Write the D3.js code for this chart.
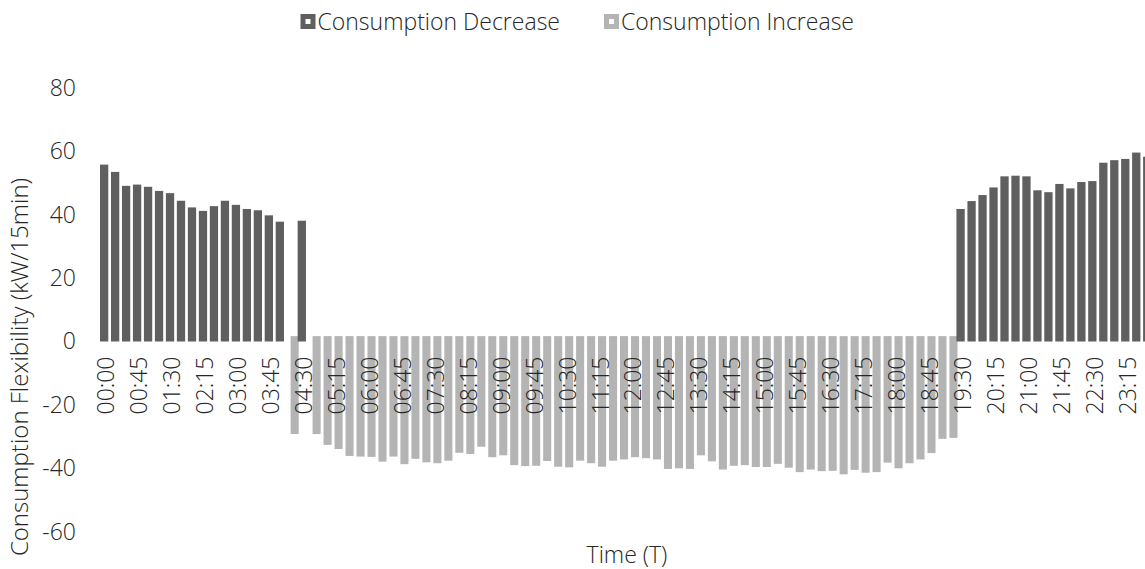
<!DOCTYPE html>
<html>
<head>
<meta charset="utf-8">
<script src="https://cdn.jsdelivr.net/npm/d3@7"></script>
<style>
  html, body { margin: 0; padding: 0; background: #ffffff; }
  svg { display: block; }
  text { font-family: "Open Sans", "Noto Sans", sans-serif; font-weight: 300; fill: #262626; }
</style>
</head>
<body>
<svg id="chart" width="1145" height="569"></svg>
<script>
// 15-minute time slots over one day
const timeSlots = [
  "00:00","00:15","00:30","00:45","01:00","01:15","01:30","01:45",
  "02:00","02:15","02:30","02:45","03:00","03:15","03:30","03:45",
  "04:00","04:15","04:30","04:45","05:00","05:15","05:30","05:45",
  "06:00","06:15","06:30","06:45","07:00","07:15","07:30","07:45",
  "08:00","08:15","08:30","08:45","09:00","09:15","09:30","09:45",
  "10:00","10:15","10:30","10:45","11:00","11:15","11:30","11:45",
  "12:00","12:15","12:30","12:45","13:00","13:15","13:30","13:45",
  "14:00","14:15","14:30","14:45","15:00","15:15","15:30","15:45",
  "16:00","16:15","16:30","16:45","17:00","17:15","17:30","17:45",
  "18:00","18:15","18:30","18:45","19:00","19:15","19:30","19:45",
  "20:00","20:15","20:30","20:45","21:00","21:15","21:30","21:45",
  "22:00","22:15","22:30","22:45","23:00","23:15","23:30","23:45"
];

// Labelled slots on the time axis
const tickLabels = [
  "00:00","00:45","01:30","02:15","03:00","03:45","04:30","05:15",
  "06:00","06:45","07:30","08:15","09:00","09:45","10:30","11:15",
  "12:00","12:45","13:30","14:15","15:00","15:45","16:30","17:15",
  "18:00","18:45","19:30","20:15","21:00","21:45","22:30","23:15"
];

// Consumption decrease (kW per 15 min), null where no flexibility is offered
const decreaseValues = [
  55.8, 53.5, 49.1, 49.5, 48.8, 47.5, 46.8, 44.4,
  42.3, 41.2, 42.7, 44.4, 43.1, 41.8, 41.4, 39.8,
  37.8, null, 38.1, null, null, null, null, null,
  null, null, null, null, null, null, null, null,
  null, null, null, null, null, null, null, null,
  null, null, null, null, null, null, null, null,
  null, null, null, null, null, null, null, null,
  null, null, null, null, null, null, null, null,
  null, null, null, null, null, null, null, null,
  null, null, null, null, null, null, 41.8, 44.3,
  46.2, 48.6, 52.1, 52.3, 52.1, 47.7, 47.1, 49.7,
  48.3, 50.3, 50.6, 56.4, 57.2, 57.6, 59.6, 58.3
];

// Consumption increase (kW per 15 min), null where no flexibility is offered
const increaseValues = [
  null, null, null, null, null, null, null, null,
  null, null, null, null, null, null, null, null,
  null, -29.2, null, -29.2, -32.6, -33.9, -36.1, -36.3,
  -36.4, -37.9, -36.3, -38.7, -37.0, -38.1, -38.4, -37.6,
  -35.1, -35.5, -33.2, -36.5, -35.9, -39.0, -39.3, -39.2,
  -37.7, -39.5, -39.7, -37.6, -38.4, -39.5, -37.6, -37.2,
  -36.5, -36.8, -37.2, -40.2, -40.0, -40.2, -35.9, -37.8,
  -40.4, -39.2, -39.0, -39.6, -39.6, -38.6, -39.8, -41.2,
  -40.4, -40.9, -40.8, -41.9, -40.5, -41.4, -41.2, -38.2,
  -40.0, -38.4, -37.2, -35.2, -30.7, -30.4, null, null,
  null, null, null, null, null, null, null, null,
  null, null, null, null, null, null, null, null
];

// Increase columns start slightly above the zero line
const increaseBase = 1.7;

const yTicks = [-60, -40, -20, 0, 20, 40, 60, 80];
const seriesNames = ["Consumption Decrease", "Consumption Increase"];
const seriesColors = ["#5f5f5f", "#b4b4b4"];

const fontSize = "23px";

const svg = d3.select("#chart");
svg.append("rect").attr("width", 1145).attr("height", 569).attr("fill", "#ffffff");

const step = 10.98;
const x = d3.scaleBand()
  .domain(timeSlots)
  .range([100, 100 + step * timeSlots.length])
  .paddingInner(0).paddingOuter(0);

const y = d3.scaleLinear()
  .domain([-60, 80])
  .range([531.7, 87.9]);

const decW = x.step() * 0.755;
const incW = x.step() * 0.735;
const incOffset = x.step() * 0.36;

// Increase columns (drawn first, decrease columns sit on top)
svg.append("g")
  .selectAll("rect")
  .data(timeSlots.map((t, i) => ({ t, v: increaseValues[i] })).filter(d => d.v !== null))
  .join("rect")
  .attr("x", d => x(d.t) + incOffset)
  .attr("width", incW)
  .attr("y", y(increaseBase))
  .attr("height", d => y(d.v) - y(increaseBase))
  .attr("fill", seriesColors[1]);

// Decrease columns
svg.append("g")
  .selectAll("rect")
  .data(timeSlots.map((t, i) => ({ t, v: decreaseValues[i] })).filter(d => d.v !== null))
  .join("rect")
  .attr("x", d => x(d.t))
  .attr("width", decW)
  .attr("y", d => y(d.v))
  .attr("height", d => y(0) - y(d.v))
  .attr("fill", seriesColors[0]);

// Time axis labels, rotated, just below the zero line
const xAxis = d3.axisBottom(x).tickValues(tickLabels).tickSize(0).tickPadding(0);
const gx = svg.append("g")
  .attr("transform", `translate(${x.step() * 0.08},${y(0) + 15})`)
  .call(xAxis);
gx.select(".domain").remove();
gx.selectAll("text")
  .attr("font-family", null)
  .attr("fill", null)
  .style("font-size", fontSize)
  .attr("text-anchor", "end")
  .attr("transform", "rotate(-90)")
  .attr("x", 0)
  .attr("y", 0)
  .attr("dy", "0.35em");

// Value axis labels
const yAxis = d3.axisLeft(y).tickValues(yTicks).tickSize(0).tickPadding(0);
const gy = svg.append("g")
  .attr("transform", "translate(76,0)")
  .call(yAxis);
gy.select(".domain").remove();
gy.selectAll("text")
  .attr("font-family", null)
  .attr("fill", null)
  .style("font-size", fontSize)
  .text(d => d < 0 ? "-" + Math.abs(d) : d);

// Axis titles
svg.append("text")
  .attr("transform", "translate(28,367) rotate(-90)")
  .attr("text-anchor", "middle")
  .style("font-size", "24px")
  .text("Consumption Flexibility (kW/15min)");

svg.append("text")
  .attr("x", 627)
  .attr("y", 563)
  .attr("text-anchor", "middle")
  .style("font-size", fontSize)
  .text("Time (T)");

// Legend
const legend = svg.append("g").attr("class", "legend");
const mk = 15;
const inner = 5;
const legendBase = 30;
const markTop = 14;

const firstText = legend.append("text")
  .attr("x", 560).attr("y", legendBase)
  .attr("text-anchor", "end")
  .style("font-size", fontSize)
  .text(seriesNames[0]);
const firstStart = 560 - firstText.node().getComputedTextLength();
const m1 = firstStart - mk - 2;
legend.append("rect")
  .attr("x", m1).attr("y", markTop).attr("width", mk).attr("height", mk)
  .attr("fill", seriesColors[0]);
legend.append("rect")
  .attr("x", m1 + (mk - inner) / 2).attr("y", markTop + (mk - inner) / 2)
  .attr("width", inner).attr("height", inner)
  .attr("fill", "#ffffff");

const m2 = 604;
legend.append("rect")
  .attr("x", m2).attr("y", markTop).attr("width", mk).attr("height", mk)
  .attr("fill", seriesColors[1]);
legend.append("rect")
  .attr("x", m2 + (mk - inner) / 2).attr("y", markTop + (mk - inner) / 2)
  .attr("width", inner).attr("height", inner)
  .attr("fill", "#ffffff");
legend.append("text")
  .attr("x", m2 + mk + 2).attr("y", legendBase)
  .style("font-size", fontSize)
  .text(seriesNames[1]);
</script>
</body>
</html>
